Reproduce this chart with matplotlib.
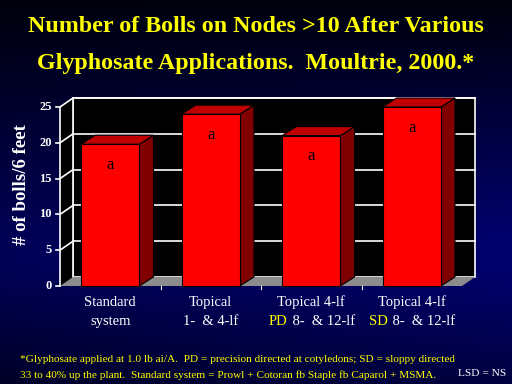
import numpy as np
import matplotlib.pyplot as plt
from matplotlib.patches import Polygon, Rectangle

# data
categories = ['Standard\nsystem', 'Topical\n1-  & 4-lf', 'Topical 4-lf\nPD 8-  & 12-lf', 'Topical 4-lf\nSD 8-  & 12-lf']
bolls = [19.8, 24.0, 21.0, 25.0]
letters = ['a', 'a', 'a', 'a']
yticks = [0, 5, 10, 15, 20, 25]

serif = 'Liberation Serif'
W, H = 512, 384
fig = plt.figure(figsize=(W / 100, H / 100), dpi=100)

# background gradient
bg = fig.add_axes([0, 0, 1, 1])
rgb = np.zeros((256, 256, 3))
yy, xx = np.mgrid[0:1:256j, 0:1:256j]
blue = 0.05 + 0.38 * np.clip(yy * 1.6, 0, 1) * (0.75 + 0.25 * xx) - 0.18 * np.clip((yy - 0.7) / 0.3, 0, 1)
rgb[..., 2] = blue
bg.imshow(rgb, extent=[0, 1, 0, 1], origin='upper', aspect='auto')
bg.set_axis_off()

# plot axes = front face of the 3D box
ax = fig.add_axes([60 / W, 1 - 286 / H, 402 / W, 179 / H])
ax.set_xlim(0, 4)
ax.set_ylim(0, 25)
ax.set_axis_off()

dx = 0.13   # depth offset in x data units
dy = 1.26   # depth offset in y data units
top = 25

# back wall, left wall, floor
ax.add_patch(Rectangle((dx, dy), 4, top, facecolor='black', edgecolor='white', lw=1.2, clip_on=False, zorder=1))
ax.add_patch(Polygon([(0, 0), (dx, dy), (dx, top + dy), (0, top)], closed=True,
                     facecolor='black', edgecolor='none', clip_on=False, zorder=1))
ax.add_patch(Polygon([(0, 0), (4, 0), (4 + dx, dy), (dx, dy)], closed=True,
                     facecolor='#8c8c8c', edgecolor='none', clip_on=False, zorder=2))
for t in yticks[1:]:
    ax.plot([dx, 4 + dx], [t + dy, t + dy], color='white', lw=1.2, clip_on=False, zorder=1.5)
    ax.plot([0, dx], [t, t + dy], color='white', lw=1.2, clip_on=False, zorder=1.5)
for t in yticks:
    ax.plot([-0.04, 0], [t, t], color='white', lw=1.2, clip_on=False, zorder=3)
    ax.text(-0.08, t, str(t), color='white', ha='right', va='center',
            fontsize=9, fontweight='bold', family=serif)
ax.plot([0, 0], [0, top], color='white', lw=1.2, clip_on=False, zorder=3)
ax.plot([dx, dx], [dy, top + dy], color='white', lw=1.2, clip_on=False, zorder=1.6)
for xb in [1, 2, 3]:
    ax.plot([xb, xb], [0, -0.35], color='white', lw=0.8, clip_on=False, zorder=3)

# bars
xs = np.arange(len(bolls)) + 0.5
bw = 0.58
bd = 0.14
bars = ax.bar(xs, bolls, width=bw, color='#ff0000', edgecolor='black', lw=0.8, zorder=5, clip_on=False)
for b, v, lab in zip(bars, bolls, letters):
    x0 = b.get_x()
    x1 = x0 + b.get_width()
    ax.add_patch(Polygon([(x1, 0), (x1 + bd, dy), (x1 + bd, v + dy), (x1, v)], closed=True,
                         facecolor='#800000', edgecolor='black', lw=0.8, zorder=4, clip_on=False))
    ax.add_patch(Polygon([(x0, v), (x1, v), (x1 + bd, v + dy), (x0 + bd, v + dy)], closed=True,
                         facecolor='#c00000', edgecolor='black', lw=0.8, zorder=4, clip_on=False))
    ax.text(x0 + b.get_width() / 2, v - 2.9, lab, color='black', ha='center', va='center',
            fontsize=12, family=serif, zorder=6)

# category labels (PD / SD in yellow)
y1, y2 = -2.3, -5.0
fs = 10.5
inv = ax.transData.inverted()
for x, lab in zip(xs, categories):
    l1, l2 = lab.split('\n')
    ax.text(x, y1, l1, color='white', ha='center', va='center', fontsize=fs, family=serif)
    if l2[:2] in ('PD', 'SD'):
        pre, rest = l2[:2], l2[2:]
        probe = ax.text(x, y2, l2, ha='center', va='center', fontsize=fs, family=serif)
        fig.canvas.draw()
        bb = probe.get_window_extent()
        probe.remove()
        x_left = inv.transform((bb.x0, 0))[0]
        tp = ax.text(x_left, y2, pre, color='yellow', ha='left', va='center', fontsize=fs, family=serif)
        fig.canvas.draw()
        bb2 = tp.get_window_extent()
        x_mid = inv.transform((bb2.x1 + 1, 0))[0]
        ax.text(x_mid, y2, rest, color='white', ha='left', va='center', fontsize=fs, family=serif)
    else:
        ax.text(x, y2, l2, color='white', ha='center', va='center', fontsize=fs, family=serif)

ax.text(-0.38, 14.2, '# of bolls/6 feet', rotation=90, color='white', ha='center', va='center',
        fontsize=13.5, fontweight='bold', family=serif)

# title
fig.text(0.5, 1 - 27 / H, 'Number of Bolls on Nodes >10 After Various', color='yellow',
         ha='center', va='center', fontsize=17.3, fontweight='bold', family=serif)
fig.text(0.5, 1 - 63 / H, 'Glyphosate Applications.  Moultrie, 2000.*', color='yellow',
         ha='center', va='center', fontsize=17.3, fontweight='bold', family=serif)

# footnote
fig.text(20 / W, 1 - 360 / H,
         '*Glyphosate applied at 1.0 lb ai/A.  PD = precision directed at cotyledons; SD = sloppy directed',
         color='yellow', ha='left', va='center', fontsize=8.1, family=serif)
fig.text(20 / W, 1 - 375 / H,
         '33 to 40% up the plant.  Standard system = Prowl + Cotoran fb Staple fb Caparol + MSMA.',
         color='yellow', ha='left', va='center', fontsize=8.1, family=serif)
fig.text(506 / W, 1 - 373 / H, 'LSD = NS', color='white', ha='right', va='center',
         fontsize=8.2, family=serif)

fig.savefig('out.png', dpi=100)
